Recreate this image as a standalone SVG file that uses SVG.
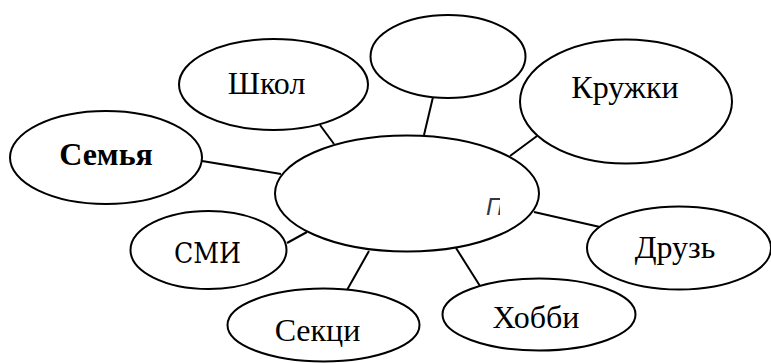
<svg xmlns="http://www.w3.org/2000/svg" width="771" height="363" viewBox="0 0 771 363">
  <style>
    .node ellipse { fill: #ffffff; stroke: #000000; stroke-width: 2; }
    .label { font-family: "Liberation Serif", "Times New Roman", serif; font-size: 32px; fill: #000000; text-anchor: middle; }
    .bold { font-weight: bold; }
    .alt { font-family: "DejaVu Serif Condensed", "Liberation Serif", serif; font-size: 28px; }
    #connectors line { stroke: #000000; stroke-width: 2; }
  </style>
  <defs>
    <clipPath id="hubClip">
      <rect x="480" y="190" width="20" height="30"/>
    </clipPath>
  </defs>

  <g id="connectors">
    <line x1="320" y1="125" x2="334" y2="144"/>
    <line x1="202" y1="161" x2="281" y2="174"/>
    <line x1="433" y1="97" x2="424" y2="135"/>
    <line x1="537" y1="136" x2="510" y2="156"/>
    <line x1="287" y1="243" x2="307" y2="232"/>
    <line x1="369" y1="251" x2="347" y2="290"/>
    <line x1="456" y1="248" x2="480" y2="286"/>
    <line x1="534" y1="212" x2="600" y2="227"/>
  </g>

  <g id="hub" class="node">
    <ellipse cx="407" cy="193.5" rx="132" ry="58"/>
    <text x="486" y="215" clip-path="url(#hubClip)" font-family="Liberation Sans, Arial, sans-serif" font-style="italic" font-size="24" fill="#2f3848">П</text>
  </g>

  <g id="school" class="node">
    <ellipse cx="273.5" cy="84.5" rx="94.5" ry="45.5"/>
    <text class="label" x="266.5" y="94">Школ</text>
  </g>

  <g id="empty" class="node">
    <ellipse cx="448" cy="56.5" rx="77.5" ry="41.5"/>
  </g>

  <g id="clubs" class="node">
    <ellipse cx="626" cy="101.5" rx="106" ry="62"/>
    <text class="label" x="625" y="98">Кружки</text>
  </g>

  <g id="family" class="node">
    <ellipse cx="106" cy="157.5" rx="96" ry="46.5"/>
    <text class="label bold" x="106" y="165">Семья</text>
  </g>

  <g id="media" class="node">
    <ellipse cx="208.5" cy="250" rx="78" ry="39"/>
    <text class="label alt" x="207.5" y="262.5">СМИ</text>
  </g>

  <g id="sections" class="node">
    <ellipse cx="323.5" cy="325" rx="96" ry="36.5"/>
    <text class="label" x="317.5" y="341">Секци</text>
  </g>

  <g id="hobby" class="node">
    <ellipse cx="539" cy="314.5" rx="96.5" ry="36"/>
    <text class="label" x="536" y="328">Хобби</text>
  </g>

  <g id="friends" class="node">
    <ellipse cx="679" cy="248" rx="92" ry="41.5"/>
    <text class="label" x="675" y="258">Друзь</text>
  </g>
</svg>
